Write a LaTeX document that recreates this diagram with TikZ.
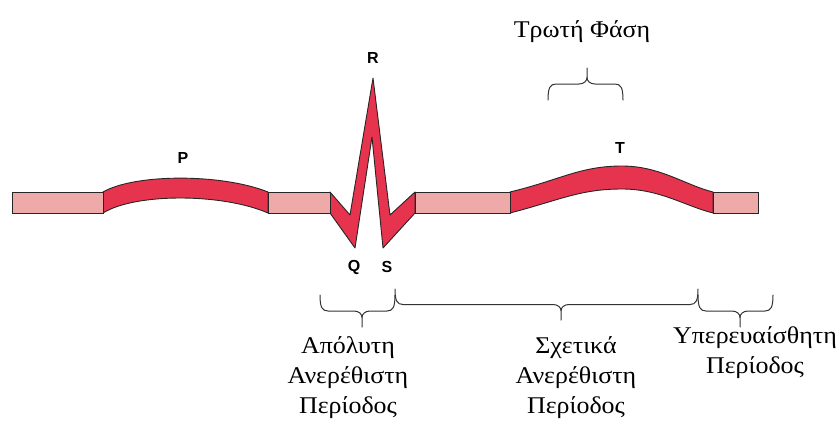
\documentclass[tikz,border=0pt]{standalone}
\usepackage{fontspec}
\setmainfont[FakeStretch=1.08]{Liberation Serif}
\newfontfamily\labfont{Liberation Sans}
\definecolor{wave}{RGB}{230,52,78}
\definecolor{seg}{RGB}{238,170,168}
\tikzset{
  wavepart/.style={fill=wave, draw=black!85, line width=0.9pt, line join=round},
  segbox/.style={fill=seg, draw=black!85, line width=0.9pt},
  wlabel/.style={font=\labfont\bfseries\fontsize{16}{18}\selectfont, inner sep=0pt},
  gtext/.style={font=\fontsize{24}{30}\selectfont, align=center, anchor=base, inner sep=0pt},
  bracestyle/.style={draw=black!80, line width=1pt, line cap=round},
}
% #1 x start, #2 x end, #3 x tip, #4 y of ends, #5 signed amplitude (+ down, - up)
\newcommand\mybrace[5]{%
  \draw[bracestyle] (#1,#4) .. controls (#1,{#4+0.75*#5/2}) and ({#1+2},{#4+#5/2}) .. ({#1+8},{#4+#5/2})
    -- ({#3-8},{#4+#5/2}) .. controls ({#3-3},{#4+#5/2}) and (#3,{#4+0.6*#5}) .. (#3,{#4+0.7*#5})
    -- (#3,{#4+#5});
  \draw[bracestyle] (#3,{#4+0.7*#5}) .. controls (#3,{#4+0.6*#5}) and ({#3+3},{#4+#5/2}) .. ({#3+8},{#4+#5/2})
    -- ({#2-8},{#4+#5/2}) .. controls ({#2-2},{#4+#5/2}) and (#2,{#4+0.75*#5/2}) .. (#2,#4);
}
\begin{document}
\begin{tikzpicture}[x=1pt,y=-1pt]
\useasboundingbox (0,0) rectangle (838,421);

% P wave
\draw[wavepart] (103,192) .. controls (135,173.5) and (222,173.5) .. (268,192)
  -- (268,213) .. controls (222,193) and (135,193) .. (103,213) -- cycle;
% QRS complex
\draw[wavepart] (330,192) -- (350,215) -- (373,78) -- (390,215) -- (415,192)
  -- (415,213) -- (383,248) -- (372,137) -- (355,248) -- (330,213) -- cycle;
% T wave
\draw[wavepart] (510,192) .. controls (560,180) and (580,166) .. (622,166)
  .. controls (660,166) and (685,185) .. (713,192)
  -- (713,213) .. controls (685,206) and (660,189) .. (622,189)
  .. controls (580,189) and (560,200) .. (510,213) -- cycle;

% isoelectric segments
\draw[segbox] (12,192) rectangle (103,213);
\draw[segbox] (268,192) rectangle (330,213);
\draw[segbox] (415,192) rectangle (510,213);
\draw[segbox] (713,192) rectangle (758,213);

% wave labels
\node[wlabel] (P) at (183,158) {P};
\node[wlabel] (R) at (373,58) {R};
\node[wlabel] (Q) at (354,267) {Q};
\node[wlabel] (S) at (387,267) {S};
\node[wlabel] (T) at (620,148) {T};

% braces
\mybrace{548}{623}{587}{100}{-32}
\mybrace{320}{395}{362}{295}{32}
\mybrace{395}{698}{561}{289}{31}
\mybrace{698}{773}{740}{295}{32}

% texts (base anchor = baseline of the last line)
\node[gtext] (vuln) at (582,37) {Τρωτή Φάση};
\node[gtext] (abs) at (348,413) {Απόλυτη\\Ανερέθιστη\\Περίοδος};
\node[gtext] (rel) at (576,413) {Σχετικά\\Ανερέθιστη\\Περίοδος};
\node[gtext] (sup) at (755,373) {Υπερευαίσθητη\\Περίοδος};
\end{tikzpicture}
\end{document}
